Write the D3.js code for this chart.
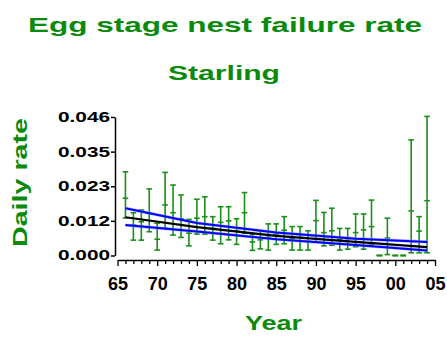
<!DOCTYPE html>
<html><head><meta charset="utf-8">
<script src="https://cdn.jsdelivr.net/npm/d3@7"></script>
<style>body{margin:0;background:#fff}svg{display:block}</style>
</head><body>
<script>
const years = [1966,1967,1968,1969,1970,1971,1972,1973,1974,1975,1976,1977,1978,1979,1980,1981,1982,1983,1984,1985,1986,1987,1988,1989,1990,1991,1992,1993,1994,1995,1996,1997,1998,1999,2000,2001,2002,2003,2004];
const rateMid = [0.0190,0.0101,0.0112,0.0140,0.0054,0.0168,0.0142,0.0122,0.0074,0.0124,0.0129,0.0090,0.0110,0.0115,0.0081,0.0142,0.0045,0.0052,0.0060,0.0070,0.0084,0.0057,0.0060,0.0047,0.0116,0.0076,0.0082,0.0053,0.0056,0.0076,0.0085,0.0096,0,0.0058,0,0,0.0148,0.0081,0.0182];
const rateLow = [0.0125,0.0051,0.0051,0.0079,0.0018,0.0090,0.0068,0.0060,0.0032,0.0071,0.0071,0.0051,0.0039,0.0052,0.0037,0.0074,0.0017,0.0022,0.0018,0.0037,0.0039,0.0018,0.0018,0.0018,0.0045,0.0032,0.0034,0.0018,0.0021,0.0029,0.0021,0.0035,0,0.0003,0,0,0.0009,0.0009,0.0009];
const rateHigh = [0.0278,0.0142,0.0151,0.0221,0.0107,0.0276,0.0234,0.0201,0.0120,0.0187,0.0195,0.0129,0.0162,0.0162,0.0122,0.0209,0.0071,0.0082,0.0105,0.0105,0.0129,0.0096,0.0096,0.0082,0.0183,0.0143,0.0157,0.0090,0.0090,0.0138,0.0138,0.0184,0,0.0124,0,0,0.0384,0.0129,0.0462];

const trendYears = [1966,1975,1985,1995,2004];
const trendFit = [0.0127,0.0094,0.0065,0.0045,0.0028];
const trendUpper = [0.0157,0.0108,0.0076,0.0056,0.0045];
const trendLower = [0.0101,0.0080,0.0054,0.0035,0.0017];

const yTickValues = [0, 0.0115, 0.023, 0.0345, 0.046];
const yTickLabels = ["0.000","0.012","0.023","0.035","0.046"];
const xTickLabels = ["65","70","75","80","85","90","95","00","05"];

const title1 = "Egg stage nest failure rate";
const title2 = "Starling";
const xTitle = "Year";
const yTitle = "Daily rate";

const W = 447, H = 337;
const green = "#0a8a0a", barGreen = "#1a8f1a";
const svg = d3.select("body").append("svg").attr("width", W).attr("height", H);

const x = d3.scaleLinear().domain([1965, 2005]).range([117.5, 435]);
const y = d3.scaleLinear().domain([0, 0.046]).range([255.5, 117]);

const font = "'Liberation Sans', Arial, sans-serif";

// titles
svg.append("text").attr("x", 225).attr("y", 32).attr("text-anchor","middle")
  .attr("font-family", font).attr("font-weight","bold").attr("font-size", 21)
  .attr("fill", green).attr("textLength", 394).attr("lengthAdjust","spacingAndGlyphs").text(title1);
svg.append("text").attr("x", 224).attr("y", 80).attr("text-anchor","middle")
  .attr("font-family", font).attr("font-weight","bold").attr("font-size", 21)
  .attr("fill", green).attr("textLength", 112).attr("lengthAdjust","spacingAndGlyphs").text(title2);
svg.append("text").attr("x", 273.5).attr("y", 330).attr("text-anchor","middle")
  .attr("font-family", font).attr("font-weight","bold").attr("font-size", 21)
  .attr("fill", green).attr("textLength", 57).attr("lengthAdjust","spacingAndGlyphs").text(xTitle);
svg.append("text").attr("transform","translate(27,182.5) rotate(-90)").attr("text-anchor","middle")
  .attr("font-family", font).attr("font-weight","bold").attr("font-size", 21)
  .attr("fill", green).attr("textLength", 129).attr("lengthAdjust","spacingAndGlyphs").text(yTitle);

// y axis
const yAxis = svg.append("g").attr("transform","translate(115,0)")
  .call(d3.axisLeft(y).tickValues(yTickValues).tickFormat((d,i)=>yTickLabels[i]).tickSize(4).tickSizeOuter(0));
yAxis.select(".domain").attr("stroke","#000").attr("stroke-width",1.5);
yAxis.selectAll(".tick line").attr("stroke","#000").attr("stroke-width",1.5);
yAxis.selectAll(".tick text").attr("font-family", font).attr("font-weight","bold").attr("font-size", 14)
  .attr("fill","#000").attr("x",-5).attr("textLength", 52).attr("lengthAdjust","spacingAndGlyphs");

// x axis
const xTickVals = d3.range(1965, 2006);
const xAxis = svg.append("g").attr("transform","translate(0,260)")
  .call(d3.axisBottom(x).tickValues(xTickVals)
    .tickFormat(d => d % 5 === 0 ? xTickLabels[(d-1965)/5] : "").tickSize(3).tickSizeOuter(0));
xAxis.select(".domain").attr("stroke","#000").attr("stroke-width",1.5);
xAxis.selectAll(".tick line").attr("stroke","#000").attr("stroke-width",1.3)
  .attr("y2", d => d % 5 === 0 ? 6 : 4);
xAxis.selectAll(".tick text").attr("font-family", font).attr("font-weight","bold").attr("font-size", 18)
  .attr("fill","#000").attr("y", 30).attr("dy", 0);

// error bars
const data = years.map((yr,i)=>({yr, mid: rateMid[i], lo: rateLow[i], hi: rateHigh[i]}));
const eb = svg.append("g").attr("stroke", barGreen).attr("stroke-width", 1.6).attr("fill","none");
const cap = 2.8;
data.forEach(d => {
  const g = eb.append("g");
  g.append("line").attr("x1", x(d.yr)).attr("x2", x(d.yr)).attr("y1", y(d.lo)).attr("y2", y(d.hi));
  [d.lo, d.hi, d.mid].forEach(v => {
    g.append("line").attr("x1", x(d.yr)-cap).attr("x2", x(d.yr)+cap).attr("y1", y(v)).attr("y2", y(v));
  });
});

// trend lines
const line = d3.line().x(d=>x(d[0])).y(d=>y(d[1]));
const mk = arr => trendYears.map((yr,i)=>[yr, arr[i]]);
[trendUpper, trendLower].forEach(arr => {
  svg.append("path").attr("d", line(mk(arr))).attr("fill","none").attr("stroke","#8080ff").attr("stroke-width",3.2).attr("opacity",0.6);
  svg.append("path").attr("d", line(mk(arr))).attr("fill","none").attr("stroke","#0000ff").attr("stroke-width",2);
});
svg.append("path").attr("d", line(mk(trendFit))).attr("fill","none").attr("stroke","#000").attr("stroke-width",2.2);
</script>
</body></html>
